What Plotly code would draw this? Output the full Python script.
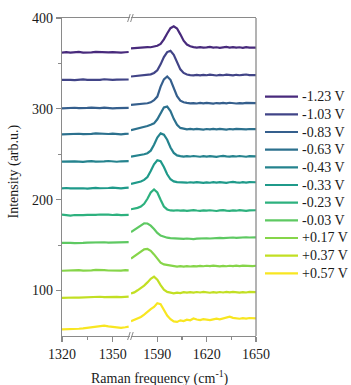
import plotly.graph_objects as go

# ---------------- data ----------------
voltages = ["-1.23 V", "-1.03 V", "-0.83 V", "-0.63 V", "-0.43 V", "-0.33 V",
            "-0.23 V", "-0.03 V", "+0.17 V", "+0.37 V", "+0.57 V"]

left_x = [1320, 1322.5, 1325, 1327.5, 1330, 1332.5, 1335, 1337.5, 1340,
          1342.5, 1345, 1347.5, 1350, 1352.5, 1355, 1357.5, 1359.5]

right_x = [1574, 1576, 1578, 1580, 1582, 1584, 1586, 1588, 1590, 1592,
           1594, 1596, 1598, 1600, 1602, 1604, 1606, 1608, 1610, 1612,
           1614, 1616, 1618, 1620, 1622, 1624, 1626, 1628, 1630, 1632,
           1634, 1636, 1638, 1640, 1642, 1644, 1646, 1648, 1650]

left_m123 = [362.0, 362.4, 361.8, 362.3, 362.6, 362.0, 361.7, 362.2, 362.8, 362.3, 361.9, 362.1, 362.5, 362.0, 361.8, 362.3, 362.6]
left_m103 = [331.8, 332.3, 332.0, 331.6, 332.2, 332.5, 331.9, 331.7, 332.3, 332.0, 332.6, 332.1, 331.8, 332.2, 332.4, 331.9, 332.3]
left_m083 = [300.6, 301.0, 300.7, 301.2, 300.8, 300.5, 301.0, 301.3, 300.7, 300.9, 301.4, 300.8, 300.5, 300.9, 301.2, 300.7, 301.0]
left_m063 = [272.0, 272.3, 271.8, 272.2, 272.6, 272.1, 271.9, 272.4, 273.0, 272.5, 272.0, 272.3, 272.7, 272.2, 271.9, 272.4, 272.6]
left_m043 = [241.9, 242.2, 241.8, 242.3, 242.0, 241.6, 242.1, 242.5, 242.0, 241.7, 242.2, 242.6, 242.1, 241.8, 242.3, 242.7, 242.4]
left_m033 = [212.5, 212.9, 212.4, 212.7, 213.1, 212.6, 212.3, 212.8, 213.0, 212.6, 212.4, 212.9, 213.2, 212.7, 212.5, 213.0, 213.3]
left_m023 = [183.5, 183.1, 182.6, 183.2, 182.8, 183.0, 183.4, 183.0, 183.3, 183.7, 184.0, 183.5, 183.2, 183.6, 183.1, 183.4, 183.3]
left_m003 = [152.6, 152.9, 152.5, 152.2, 152.7, 152.4, 152.8, 153.1, 152.7, 152.9, 153.2, 152.8, 153.0, 153.4, 152.9, 153.1, 153.3]
left_p017 = [121.8, 122.1, 121.7, 122.0, 122.4, 122.0, 121.8, 122.3, 122.7, 122.2, 122.5, 122.1, 121.9, 122.3, 122.0, 122.4, 122.2]
left_p037 = [92.0, 92.3, 92.1, 92.4, 92.2, 92.5, 92.8, 92.5, 92.9, 93.2, 92.8, 93.0, 93.4, 93.0, 92.7, 93.1, 93.3]
left_p057 = [57.2, 57.6, 57.9, 58.3, 58.0, 58.4, 58.9, 59.3, 59.8, 60.9, 61.4, 60.6, 60.0, 59.5, 59.0, 59.6, 60.3]

right_m123 = [366.5, 366.9, 367.2, 367.0, 367.6, 368.0, 367.8, 368.6, 369.5, 371.5,
              376.5, 383.0, 388.8, 390.8, 388.5, 382.0, 375.0, 370.8, 368.9, 368.0,
              367.5, 367.9, 367.3, 367.6, 368.1, 367.4, 367.8, 367.2, 367.7, 368.2,
              367.5, 367.9, 367.3, 367.8, 367.2, 368.0, 367.4, 367.7, 367.5]
right_m103 = [335.6, 336.0, 336.4, 336.1, 336.8, 337.4, 338.0, 339.5, 342.5, 349.0,
              357.0, 362.5, 363.8, 359.5, 351.0, 343.5, 339.5, 337.8, 337.2, 336.8,
              337.3, 336.9, 337.5, 337.0, 337.6, 337.1, 336.7, 337.4, 337.0, 337.6,
              337.2, 336.8, 337.5, 337.0, 337.4, 337.8, 337.1, 337.5, 337.2]
right_m083 = [304.4, 304.8, 305.2, 305.0, 305.6, 306.2, 307.2, 309.5, 313.5, 324.5,
              332.5, 335.7, 332.0, 323.0, 314.0, 309.0, 307.2, 306.5, 306.0, 306.4,
              305.9, 306.5, 306.1, 306.6, 306.2, 305.8, 306.4, 306.0, 306.5, 306.1,
              306.7, 306.2, 305.9, 306.4, 306.0, 306.5, 306.2, 306.6, 306.3]
right_m063 = [276.5, 277.3, 278.0, 279.0, 280.2, 281.2, 282.5, 284.0, 288.5, 295.5,
              301.5, 302.5, 297.5, 289.0, 282.5, 279.0, 277.9, 277.5, 277.9, 277.4,
              278.0, 277.6, 277.2, 277.8, 277.4, 277.9, 277.5, 278.0, 277.6, 277.2,
              277.8, 277.4, 277.9, 277.5, 277.9, 277.4, 277.8, 277.5, 277.7]
right_m043 = [247.3, 247.9, 248.4, 249.0, 250.0, 251.2, 254.0, 260.5, 268.5, 273.0,
              271.5, 266.0, 257.5, 251.5, 248.8, 247.9, 247.5, 248.0, 247.6, 248.1,
              247.7, 247.3, 247.9, 247.5, 248.0, 247.6, 247.2, 247.8, 248.3, 247.7,
              247.4, 248.0, 247.6, 248.1, 247.7, 247.3, 247.9, 247.5, 247.8]
right_m033 = [217.3, 218.0, 218.8, 220.0, 221.8, 225.0, 231.5, 239.0, 243.5, 242.5,
              236.0, 228.0, 222.5, 220.2, 219.3, 218.9, 219.3, 218.7, 219.2, 218.8,
              219.4, 218.9, 218.5, 219.1, 218.7, 219.3, 218.8, 219.4, 219.0, 218.6,
              219.2, 219.6, 219.0, 218.7, 219.3, 218.9, 219.4, 219.0, 219.2]
right_m023 = [189.5, 190.2, 191.0, 192.5, 195.5, 201.0, 208.0, 211.2, 208.0, 200.0,
              192.5, 189.3, 188.2, 188.0, 188.4, 187.9, 188.3, 187.8, 188.2, 188.6,
              188.1, 187.7, 188.3, 187.9, 188.4, 188.0, 187.6, 188.2, 188.6, 188.0,
              187.7, 188.3, 187.9, 188.5, 188.1, 187.7, 188.3, 188.0, 188.4]
right_m003 = [164.5, 167.0, 170.0, 172.5, 174.0, 173.8, 171.5, 167.8, 163.5, 160.5,
              159.0, 158.2, 157.8, 157.5, 157.6, 157.2, 156.8, 157.3, 156.9, 156.6,
              157.1, 157.5, 157.1, 157.6, 157.3, 157.8, 157.5, 158.0, 157.7, 158.2,
              157.9, 158.4, 158.1, 158.5, 158.2, 158.7, 158.4, 158.8, 158.6]
right_p017 = [135.3, 138.0, 140.8, 143.5, 145.3, 145.8, 143.8, 139.8, 135.0, 130.8,
              128.8, 128.0, 127.2, 126.8, 126.4, 126.8, 126.3, 126.9, 126.5, 127.0,
              126.6, 127.2, 126.8, 127.3, 126.9, 127.4, 127.0, 126.6, 127.2, 126.8,
              127.3, 126.9, 127.4, 127.0, 127.5, 127.1, 127.4, 127.0, 127.3]
right_p037 = [96.8, 98.0, 100.3, 102.5, 105.5, 109.0, 113.0, 115.3, 112.0, 106.0,
              101.0, 98.5, 97.6, 97.0, 97.8, 97.3, 98.2, 97.7, 98.3, 97.8,
              98.4, 97.9, 98.5, 98.0, 97.6, 98.3, 97.8, 98.4, 97.9, 98.5,
              98.0, 98.6, 98.1, 97.7, 98.3, 97.9, 98.5, 98.0, 98.3]
right_p057 = [66.3, 67.8, 69.8, 71.0, 73.5, 76.8, 79.5, 82.0, 86.0, 85.0,
              78.5, 72.5, 68.5, 66.0, 65.5, 67.2, 66.4, 68.0, 67.3, 69.3,
              68.2, 67.5, 68.6, 67.9, 67.4, 68.3, 69.0, 68.4, 69.2, 70.3,
              71.2, 70.0, 69.4, 69.0, 69.6, 69.2, 69.8, 69.3, 69.5]

y_ticks = [100, 200, 300, 400]
x_left_ticks = [1320, 1350]
x_right_ticks = [1590, 1620, 1650]

left_series = [left_m123, left_m103, left_m083, left_m063, left_m043, left_m033,
               left_m023, left_m003, left_p017, left_p037, left_p057]
right_series = [right_m123, right_m103, right_m083, right_m063, right_m043, right_m033,
                right_m023, right_m003, right_p017, right_p037, right_p057]

# ---------------- style ----------------
colors = ["#482a7c", "#414487", "#355f8d", "#2c718e", "#25838e", "#1f9a8a",
          "#2db17e", "#5ec962", "#86d549", "#c2df23", "#f8e621"]

W, H = 351, 385
ML, MR, MT, MB = 62, 95, 18, 49
PW, PH = W - ML - MR, H - MT - MB
FONT = "Liberation Serif, Times New Roman, serif"
AXC = "#8a8a8a"
TXT = "#1a1a1a"


def px(xp):
    return (xp - ML) / PW


def py(yp):
    return (H - MB - yp) / PH


fig = go.Figure()
for name, col, yl, yr in zip(voltages, colors, left_series, right_series):
    fig.add_trace(go.Scatter(x=left_x, y=yl, xaxis="x", yaxis="y", mode="lines",
                             name=name, line=dict(color=col, width=2.2), showlegend=False))
    fig.add_trace(go.Scatter(x=right_x, y=yr, xaxis="x2", yaxis="y", mode="lines",
                             name=name, line=dict(color=col, width=2.2), showlegend=False))

axis_common = dict(showgrid=False, zeroline=False, showline=True, linecolor=AXC,
                   linewidth=1.3, ticks="outside", ticklen=5, tickwidth=1.2,
                   tickcolor=AXC, automargin=False,
                   tickfont=dict(family=FONT, size=14, color=TXT))

shapes = []
annotations = []

# right frame border
shapes.append(dict(type="line", xref="paper", yref="paper", x0=1, x1=1, y0=0, y1=1,
                   line=dict(color=AXC, width=1.3)))

# axis-break marks
for yb in (MT, H - MB):
    for xs in (127.6, 130.6):
        shapes.append(dict(type="line", xref="paper", yref="paper",
                           x0=px(xs), x1=px(xs + 2.6), y0=py(yb + 4), y1=py(yb - 4),
                           line=dict(color=AXC, width=1)))

# manual legend
for i, (name, col) in enumerate(zip(voltages, colors)):
    yc = 96.7 + 17.66 * i
    shapes.append(dict(type="line", xref="paper", yref="paper",
                       x0=px(265), x1=px(298), y0=py(yc), y1=py(yc),
                       line=dict(color=col, width=2.2)))
    annotations.append(dict(text=name, xref="paper", yref="paper", x=px(300), y=py(yc),
                            xanchor="left", yanchor="middle", showarrow=False,
                            font=dict(family=FONT, size=14, color=TXT)))

# axis titles
annotations.append(dict(text="Intensity (arb.u.)", xref="paper", yref="paper",
                        x=px(14), y=py(171.5), textangle=-90, showarrow=False,
                        xanchor="center", yanchor="middle",
                        font=dict(family=FONT, size=14, color=TXT)))
annotations.append(dict(text="Raman frequency (cm<sup>-1</sup>)", xref="paper", yref="paper",
                        x=px(160), y=py(377), showarrow=False,
                        xanchor="center", yanchor="middle",
                        font=dict(family=FONT, size=14, color=TXT)))

fig.update_layout(
    width=W, height=H,
    margin=dict(l=ML, r=MR, t=MT, b=MB, pad=0),
    paper_bgcolor="white", plot_bgcolor="white",
    showlegend=False,
    xaxis=dict(domain=[0, px(129.5)], range=[1320, 1360], anchor="y",
               tickvals=x_left_ticks, mirror=True,
               minor=dict(tickvals=[1335], ticks="outside", ticklen=3, tickcolor=AXC),
               **axis_common),
    xaxis2=dict(domain=[px(131), 1], range=[1574, 1650], anchor="y",
                tickvals=x_right_ticks, mirror=True,
                minor=dict(tickvals=[1605, 1635], ticks="outside", ticklen=3, tickcolor=AXC),
                **axis_common),
    yaxis=dict(domain=[0, 1], range=[50, 400], anchor="x",
               tickvals=y_ticks,
               minor=dict(tickvals=[150, 250, 350], ticks="outside", ticklen=3, tickcolor=AXC),
               **axis_common),
    shapes=shapes,
    annotations=annotations,
)

fig.write_html("out.html",
               config={"displayModeBar": False, "staticPlot": True},
               post_script="document.body.style.margin='0';document.body.style.overflow='hidden';")
